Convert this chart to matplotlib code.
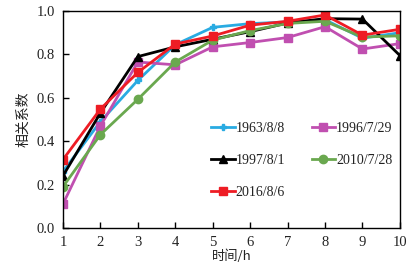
import matplotlib
matplotlib.use("Agg")
import matplotlib.pyplot as plt

hours = [1, 2, 3, 4, 5, 6, 7, 8, 9, 10]
labels = ["1963/8/8", "1996/7/29", "1997/8/1", "2010/7/28", "2016/8/6"]
s1963 = [0.26, 0.49, 0.68, 0.845, 0.925, 0.942, 0.95, 0.96, 0.875, 0.90]
s1996 = [0.11, 0.47, 0.765, 0.752, 0.835, 0.855, 0.878, 0.928, 0.825, 0.85]
s1997 = [0.24, 0.53, 0.79, 0.835, 0.87, 0.905, 0.945, 0.965, 0.963, 0.795]
s2010 = [0.19, 0.43, 0.593, 0.765, 0.866, 0.91, 0.943, 0.953, 0.88, 0.886]
s2016 = [0.315, 0.548, 0.717, 0.848, 0.885, 0.935, 0.953, 0.982, 0.889, 0.916]
xlabel = "时间/h"
ylabel = "相关系数"

series = [s1963, s1996, s1997, s2010, s2016]
colors = ["#29abe2", "#c04fb0", "#000000", "#6aa84f", "#ee1c24"]
markers = ["P", "s", "^", "o", "s"]
msizes = [5, 6, 6, 6, 6]

plt.rcParams['font.family'] = ['Liberation Serif', 'Noto Sans CJK SC']
txtc = "#222222"

fig = plt.figure(figsize=(4.17, 2.70), dpi=100)
ax = fig.add_axes([0.151, 0.156, 0.808, 0.803])
handles = []
for ys, c, m, ms, lab in zip(series, colors, markers, msizes, labels):
    h, = ax.plot(hours, ys, color=c, marker=m, markersize=ms, linewidth=2, label=lab)
    handles.append(h)

ax.set_xlim(1, 10)
ax.set_ylim(0, 1.0)
ax.set_xticks(hours)
ax.set_yticks([0, 0.2, 0.4, 0.6, 0.8, 1.0])
ax.set_yticklabels(["0.0", "0.2", "0.4", "0.6", "0.8", "1.0"])
ax.tick_params(direction='in', length=4, width=1, labelsize=10.5, pad=6, labelcolor=txtc)
for sp in ax.spines.values():
    sp.set_linewidth(1)
ax.set_xlabel(xlabel, family=['Noto Sans CJK SC'], fontsize=9.5, labelpad=0, color=txtc)
ax.set_ylabel(ylabel, family=['Noto Sans CJK SC'], fontsize=10, labelpad=4, color=txtc)

order = [0, 2, 4, 1, 3]
leg = ax.legend([handles[i] for i in order], [labels[i] for i in order],
                ncol=2, loc='upper left', bbox_to_anchor=(0.42, 0.52), frameon=False,
                fontsize=10, handlelength=1.7, handletextpad=0.05, columnspacing=1.9,
                labelspacing=1.35, borderpad=0)
for t in leg.get_texts():
    t.set_color(txtc)

fig.savefig("out.png", dpi=100)
